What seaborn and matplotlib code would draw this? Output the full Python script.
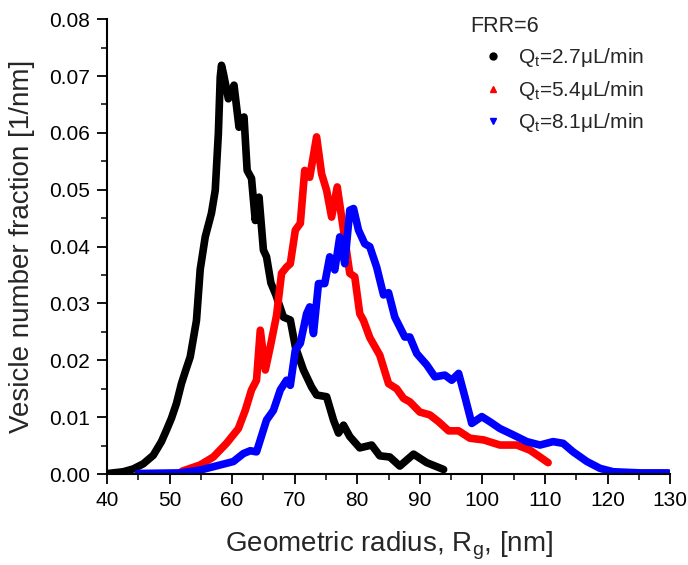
import matplotlib
matplotlib.use("Agg")
import matplotlib.pyplot as plt
from matplotlib.lines import Line2D
from matplotlib.ticker import MultipleLocator
import seaborn as sns
import pandas as pd

# ---- data ----
black_x = [40.2, 42.6, 44.2, 45.8, 47.4, 48.7, 49.5, 50.3, 51.1, 51.9, 52.6, 53.3, 54.3, 54.9, 55.7,
           56.7, 57.3, 57.8, 58.1, 58.3, 58.6, 59.4, 60.3, 61.1, 61.9, 62.4, 63.1, 63.7, 64.3, 65.0,
           65.5, 66.2, 67.0, 68.2, 69.3, 70.1, 71.4, 72.7, 73.5, 75.1, 76.2, 77.0, 77.8, 78.8, 80.4,
           82.3, 83.6, 85.2, 86.8, 89.0, 91.1, 93.8]
black_y = [0.0001, 0.0004, 0.0009, 0.0018, 0.0033, 0.0057, 0.0077, 0.0098, 0.0124, 0.0159, 0.0183,
           0.0206, 0.027, 0.036, 0.0417, 0.0459, 0.0499, 0.0599, 0.0698, 0.0719, 0.0705, 0.066, 0.0684,
           0.061, 0.0628, 0.0534, 0.052, 0.0446, 0.0487, 0.0394, 0.0382, 0.0336, 0.0315, 0.0276, 0.0271,
           0.0224, 0.0183, 0.0153, 0.0139, 0.0136, 0.0095, 0.0072, 0.0086, 0.0066, 0.0046, 0.0051,
           0.0032, 0.003, 0.0014, 0.0035, 0.002, 0.0008]

red_x = [52.0, 54.9, 57.0, 59.1, 61.0, 62.1, 63.1, 63.9, 64.5, 65.3, 66.1, 67.1, 67.9, 68.7, 69.3,
         70.1, 70.9, 71.6, 72.4, 73.5, 74.3, 75.1, 75.9, 76.8, 77.8, 78.8, 79.6, 80.4, 81.0, 82.0,
         83.6, 85.0, 86.3, 87.4, 88.4, 90.0, 91.6, 93.0, 94.6, 96.2, 98.0, 100.2, 102.8, 105.5,
         107.6, 109.2, 110.5]
red_y = [0.0005, 0.0016, 0.003, 0.0054, 0.008, 0.0112, 0.0148, 0.0165, 0.0253, 0.0183, 0.0224,
         0.0279, 0.0353, 0.0364, 0.037, 0.0429, 0.0441, 0.0534, 0.0522, 0.0593, 0.0528, 0.0499,
         0.0452, 0.0505, 0.0429, 0.0353, 0.0347, 0.0282, 0.027, 0.024, 0.0209, 0.0159, 0.015,
         0.0133, 0.0127, 0.0109, 0.0104, 0.0092, 0.0076, 0.0076, 0.0063, 0.006, 0.0051, 0.0051,
         0.0042, 0.003, 0.002]

blue_x = [45.0, 51.7, 54.9, 58.1, 60.2, 61.8, 62.9, 63.9, 65.5, 66.6, 67.7, 68.7, 69.3, 70.1, 70.9,
          71.9, 72.4, 73.0, 73.8, 74.8, 75.6, 76.4, 77.2, 78.0, 78.8, 79.4, 80.2, 81.2, 82.0, 83.1,
          84.2, 85.0, 86.0, 87.6, 88.4, 89.5, 91.1, 92.4, 94.0, 95.1, 96.2, 97.2, 98.3, 99.9, 101.2,
          102.8, 104.9, 107.1, 109.2, 111.3, 112.9, 114.5, 116.7, 118.8, 120.9, 125.2, 129.7]
blue_y = [0.0001, 0.0002, 0.0007, 0.0016, 0.0022, 0.0036, 0.0041, 0.0039, 0.0095, 0.0112, 0.0148,
          0.0165, 0.0156, 0.0218, 0.023, 0.0282, 0.0294, 0.0247, 0.0335, 0.0335, 0.0382, 0.0359,
          0.0417, 0.037, 0.0464, 0.0467, 0.0429, 0.0405, 0.04, 0.0364, 0.0315, 0.0319, 0.0276,
          0.0241, 0.0241, 0.0212, 0.0192, 0.0171, 0.0174, 0.0165, 0.0177, 0.0136, 0.0089, 0.0101,
          0.0092, 0.008, 0.0069, 0.0057, 0.0051, 0.0057, 0.0054, 0.0039, 0.0022, 0.001, 0.0004,
          0.0002, 0.0002]

labels = ["Q$_\\mathrm{t}$=2.7\u03bcL/min", "Q$_\\mathrm{t}$=5.4\u03bcL/min", "Q$_\\mathrm{t}$=8.1\u03bcL/min"]
colors = ["#000000", "#ff0000", "#0000ff"]
markers = ["o", "^", "v"]
x_ticks = [40, 50, 60, 70, 80, 90, 100, 110, 120, 130]
y_ticks = [0.00, 0.01, 0.02, 0.03, 0.04, 0.05, 0.06, 0.07, 0.08]

sns.set_style("ticks")
plt.rcParams["font.family"] = ["Liberation Sans", "DejaVu Sans"]
plt.rcParams["mathtext.fontset"] = "custom"
plt.rcParams["mathtext.rm"] = "Liberation Sans"

fig = plt.figure(figsize=(6.88, 5.65), dpi=100)
ax = fig.add_axes([0.1555, 0.161, 0.8185, 0.805])

series = [(black_x, black_y), (red_x, red_y), (blue_x, blue_y)]
for (xs, ys), lab, c in zip(series, labels, colors):
    df = pd.DataFrame({"x": xs, "y": ys})
    sns.lineplot(data=df, x="x", y="y", ax=ax, color=c, lw=5.5, sort=False,
                 solid_capstyle="round", solid_joinstyle="round", legend=False)

ax.set_xlim(40, 130)
ax.set_ylim(0, 0.08)
ax.set_xticks(x_ticks)
ax.set_yticks(y_ticks)
ax.set_yticklabels([f"{v:.2f}" for v in y_ticks])
ax.xaxis.set_minor_locator(MultipleLocator(5))
ax.yaxis.set_minor_locator(MultipleLocator(0.005))
ax.tick_params(which="major", direction="out", length=7, width=1.3, labelsize=15,
               colors="black", pad=5)
ax.tick_params(which="minor", direction="out", length=4, width=1.3)
sns.despine(ax=ax)
for s in ["left", "bottom"]:
    ax.spines[s].set_linewidth(1.5)
    ax.spines[s].set_color("black")

ax.set_xlabel("Geometric radius, R$_\\mathrm{g}$, [nm]", fontsize=20, labelpad=14)
ax.set_ylabel("Vesicle number fraction [1/nm]", fontsize=20, labelpad=10)

handles = [Line2D([], [], ls="none", marker=m, color=c, markersize=5) for m, c in zip(markers, colors)]
leg = fig.legend(handles, labels, title="FRR=6", loc="upper left",
                 bbox_to_anchor=(0.668, 0.99), frameon=False, fontsize=15,
                 title_fontsize=15.5, handlelength=2.2, handletextpad=0.1,
                 labelspacing=0.45, borderpad=0)
leg._legend_box.align = "left"

fig.savefig("out.png", dpi=100)
